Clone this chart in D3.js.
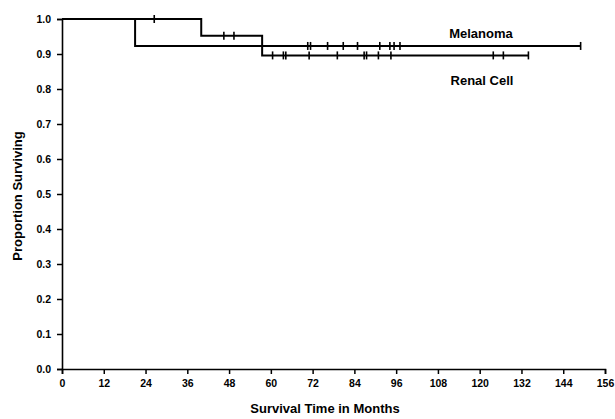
<!DOCTYPE html>
<html>
<head>
<meta charset="utf-8">
<script src="https://cdn.jsdelivr.net/npm/d3@7"></script>
<style>
  html, body { margin: 0; padding: 0; background: #fff; }
  svg { display: block; }
  text { font-family: "Liberation Sans", Arial, Helvetica, sans-serif; font-weight: bold; fill: #000; }
</style>
</head>
<body>
<script>
// ---- data ----
const xTickValues = [0, 12, 24, 36, 48, 60, 72, 84, 96, 108, 120, 132, 144, 156];
const yTickValues = [0.0, 0.1, 0.2, 0.3, 0.4, 0.5, 0.6, 0.7, 0.8, 0.9, 1.0];

const seriesNames = ["Melanoma", "Renal Cell"];

const melanomaTimes = [0, 21, 149];
const melanomaSurvival = [1.0, 0.923, 0.923];
const melanomaCensored = [70.6, 71.4, 76.3, 80.8, 84.9, 91.3, 94.2, 95.4, 97.1, 149];

const renalTimes = [0, 40, 57.5, 134];
const renalSurvival = [1.0, 0.952, 0.896, 0.896];
const renalCensored = [26.5, 46.5, 49.4, 60.5, 63.6, 64.3, 71.0, 79.1, 86.8, 87.5, 90.9, 94.5, 123.9, 126.8, 134];

const xTitle = "Survival Time in Months";
const yTitle = "Proportion Surviving";

// ---- layout ----
const W = 615, H = 419;
const svg = d3.select("body").append("svg").attr("width", W).attr("height", H);

const x = d3.scaleLinear().domain([0, 156]).range([62, 605]);
const y = d3.scaleLinear().domain([0, 1]).range([369, 19]);

// axes
const xAxis = d3.axisBottom(x).tickValues(xTickValues).tickSize(5).tickPadding(6).tickFormat(d3.format("d"));
const gx = svg.append("g").attr("transform", `translate(0,${y(0)})`).call(xAxis);
const yAxis = d3.axisLeft(y).tickValues(yTickValues).tickSize(5).tickPadding(6).tickFormat(d3.format(".1f"));
const gy = svg.append("g").attr("transform", `translate(${x(0)},0)`).call(yAxis);

[gx, gy].forEach(g => {
  g.select(".domain").attr("stroke", "#000").attr("stroke-width", 1.6);
  g.selectAll(".tick line").attr("stroke", "#000").attr("stroke-width", 1.5);
  g.selectAll(".tick text").style("font-size", "10.5px").style("font-weight", "bold")
    .style("font-family", '"Liberation Sans", Arial, sans-serif').attr("fill", "#000");
});

// axis titles
svg.append("text").attr("x", 325).attr("y", 413).attr("text-anchor", "middle")
  .style("font-size", "13px").text(xTitle);
svg.append("text").attr("transform", `translate(22,196) rotate(-90)`).attr("text-anchor", "middle")
  .style("font-size", "13px").text(yTitle);

// curves
const line = d3.line().x(d => x(d[0])).y(d => y(d[1])).curve(d3.curveStepAfter);
const curves = [
  { times: melanomaTimes, surv: melanomaSurvival, cens: melanomaCensored },
  { times: renalTimes, surv: renalSurvival, cens: renalCensored }
];

function survAt(c, t) {
  let s = c.surv[0];
  for (let i = 0; i < c.times.length; i++) if (c.times[i] <= t) s = c.surv[i];
  return s;
}

curves.forEach(c => {
  const pts = c.times.map((t, i) => [t, c.surv[i]]);
  svg.append("path").attr("d", line(pts)).attr("fill", "none")
    .attr("stroke", "#000").attr("stroke-width", 2);
  svg.selectAll(null).data(c.cens).enter().append("line")
    .attr("x1", d => x(d)).attr("x2", d => x(d))
    .attr("y1", d => y(survAt(c, d)) - 4).attr("y2", d => y(survAt(c, d)) + 4)
    .attr("stroke", "#000").attr("stroke-width", 1.6);
});

// series labels
svg.append("text").attr("x", 481).attr("y", 38).attr("text-anchor", "middle")
  .style("font-size", "13px").text(seriesNames[0]);
svg.append("text").attr("x", 482).attr("y", 85).attr("text-anchor", "middle")
  .style("font-size", "13px").text(seriesNames[1]);
</script>
</body>
</html>
